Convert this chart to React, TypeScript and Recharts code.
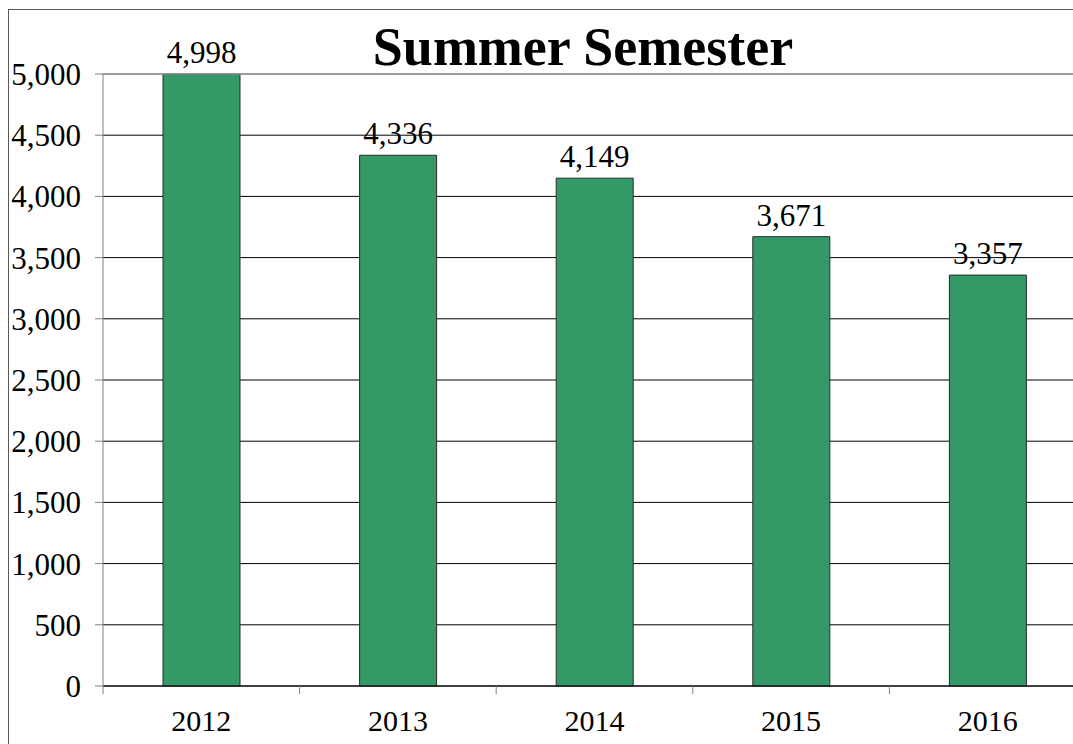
import { Bar, BarChart, CartesianGrid, LabelList, ReferenceLine, XAxis, YAxis } from "recharts";

const years = ["2012", "2013", "2014", "2015", "2016"];
const enrollment = [4998, 4336, 4149, 3671, 3357];
const yTicks = [0, 500, 1000, 1500, 2000, 2500, 3000, 3500, 4000, 4500, 5000];

const FONT = "Liberation Serif";
const fmt = (v: number) => Number(v).toLocaleString("en-US");

// year label plus a tick mark on the left edge of each category band
function YearTick(props: any) {
  const { x, y, payload } = props;
  const edge = x - (payload.offset || 0);
  return (
    <g>
      <line x1={edge} x2={edge} y1={y - 24} y2={y - 16} stroke="#808080" />
      <text x={x} y={y} dy="0.71em" textAnchor="middle" fill="#000" fontSize={30} fontFamily={FONT}>
        {payload.value}
      </text>
    </g>
  );
}

function ValueTick(props: any) {
  const { x, y, payload } = props;
  return (
    <text x={x} y={y} dy="0.355em" textAnchor="end" fill="#000" fontSize={31} fontFamily={FONT}>
      {fmt(payload.value)}
    </text>
  );
}

function BarValue(props: any) {
  const { x, y, width, value } = props;
  return (
    <text x={x + width / 2} y={y - 11} textAnchor="middle" fill="#000" fontSize={31} fontFamily={FONT}>
      {fmt(value)}
    </text>
  );
}

export default function App() {
  const data = years.map((year, i) => ({ year, value: enrollment[i] }));

  return (
    <div
      style={{
        position: "fixed",
        left: 8,
        top: 9,
        width: 1070,
        height: 740,
        overflow: "hidden",
        borderLeft: "1px solid #595959",
        borderTop: "1px solid #595959",
        background: "#fff",
        fontFamily: FONT,
      }}
    >
      <BarChart
        width={1087}
        height={736}
        data={data}
        margin={{ top: 64, right: 10, left: 0, bottom: 0 }}
      >
        <CartesianGrid vertical={false} stroke="#000" />
        <XAxis
          dataKey="year"
          height={60}
          tickSize={0}
          tickMargin={24}
          axisLine={{ stroke: "#000" }}
          tickLine={false}
          tick={<YearTick />}
        />
        <YAxis
          domain={[0, 5000]}
          ticks={yTicks}
          width={94}
          tickSize={8}
          tickMargin={14}
          stroke="#808080"
          tick={<ValueTick />}
        />
        <ReferenceLine y={5000} stroke="#bdbdbd" />
        <Bar
          dataKey="value"
          fill="#339966"
          stroke="#2b2b2b"
          strokeWidth={1}
          barSize={77}
          isAnimationActive={false}
        >
          <LabelList dataKey="value" content={<BarValue />} />
        </Bar>
      </BarChart>
      <svg
        width={1070}
        height={80}
        style={{ position: "absolute", left: 0, top: 0, pointerEvents: "none" }}
      >
        <text
          x={574}
          y={55}
          textAnchor="middle"
          fontFamily={FONT}
          fontWeight="bold"
          fontSize={54}
          fill="#000"
        >
          Summer Semester
        </text>
      </svg>
    </div>
  );
}
